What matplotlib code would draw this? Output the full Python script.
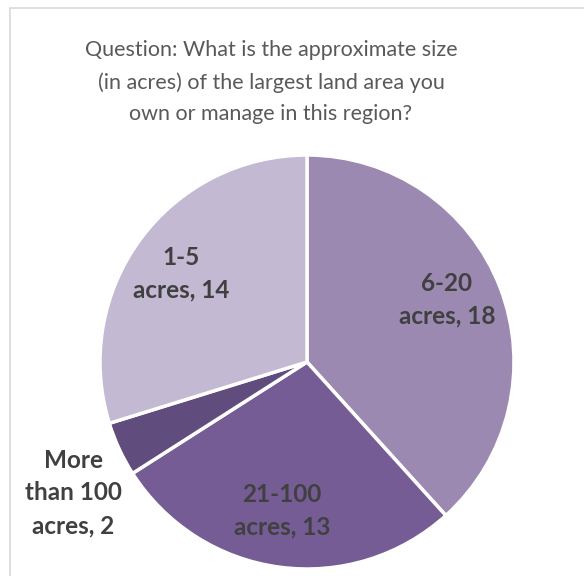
import matplotlib
matplotlib.use('Agg')
import matplotlib.pyplot as plt
from matplotlib.patches import Rectangle

# data
categories = ["6-20\nacres", "21-100\nacres", "More\nthan 100\nacres", "1-5\nacres"]
counts = [18, 13, 2, 14]
colors = ["#9c89b2", "#765c95", "#614c7e", "#c3b9d3"]
title = "Question: What is the approximate size\n(in acres) of the largest land area you\nown or manage in this region?"

W, H = 584, 576
fig = plt.figure(figsize=(W / 100, H / 100), dpi=100)

# chart border (light grey, runs off the right and bottom edges)
fig.patches.append(Rectangle((10 / W, -0.1), 1.2, 1 - 8 / H + 0.1, transform=fig.transFigure,
                             fill=False, edgecolor="#d9d9d9", linewidth=1.2))

# pie centre and radius in pixels
cx, cy, r = 307, 362, 207
ax = fig.add_axes([(cx - r) / W, (H - cy - r) / H, 2 * r / W, 2 * r / H])
wedges, _ = ax.pie(counts, colors=colors, startangle=90, counterclock=False,
                   wedgeprops=dict(edgecolor="white", linewidth=2.5))
ax.set_xlim(-1, 1)
ax.set_ylim(-1, 1)
ax.set_aspect('equal')
ax.axis('off')

# label positions (pixel centres)
label_pos = [(447, 300), (282, 511), (73, 493), (181, 274)]
for cat, n, (px, py) in zip(categories, counts, label_pos):
    fig.text(px / W, 1 - py / H, cat + ", " + str(n), ha="center", va="center",
             fontsize=17.5, fontweight="bold", color="#404040", family="Lato",
             linespacing=1.5)

fig.text(271 / W, 1 - 82 / H, title, ha="center", va="center", fontsize=15.5,
         color="#595959", family="Lato", linespacing=1.7)

fig.savefig("out.png", dpi=100)
